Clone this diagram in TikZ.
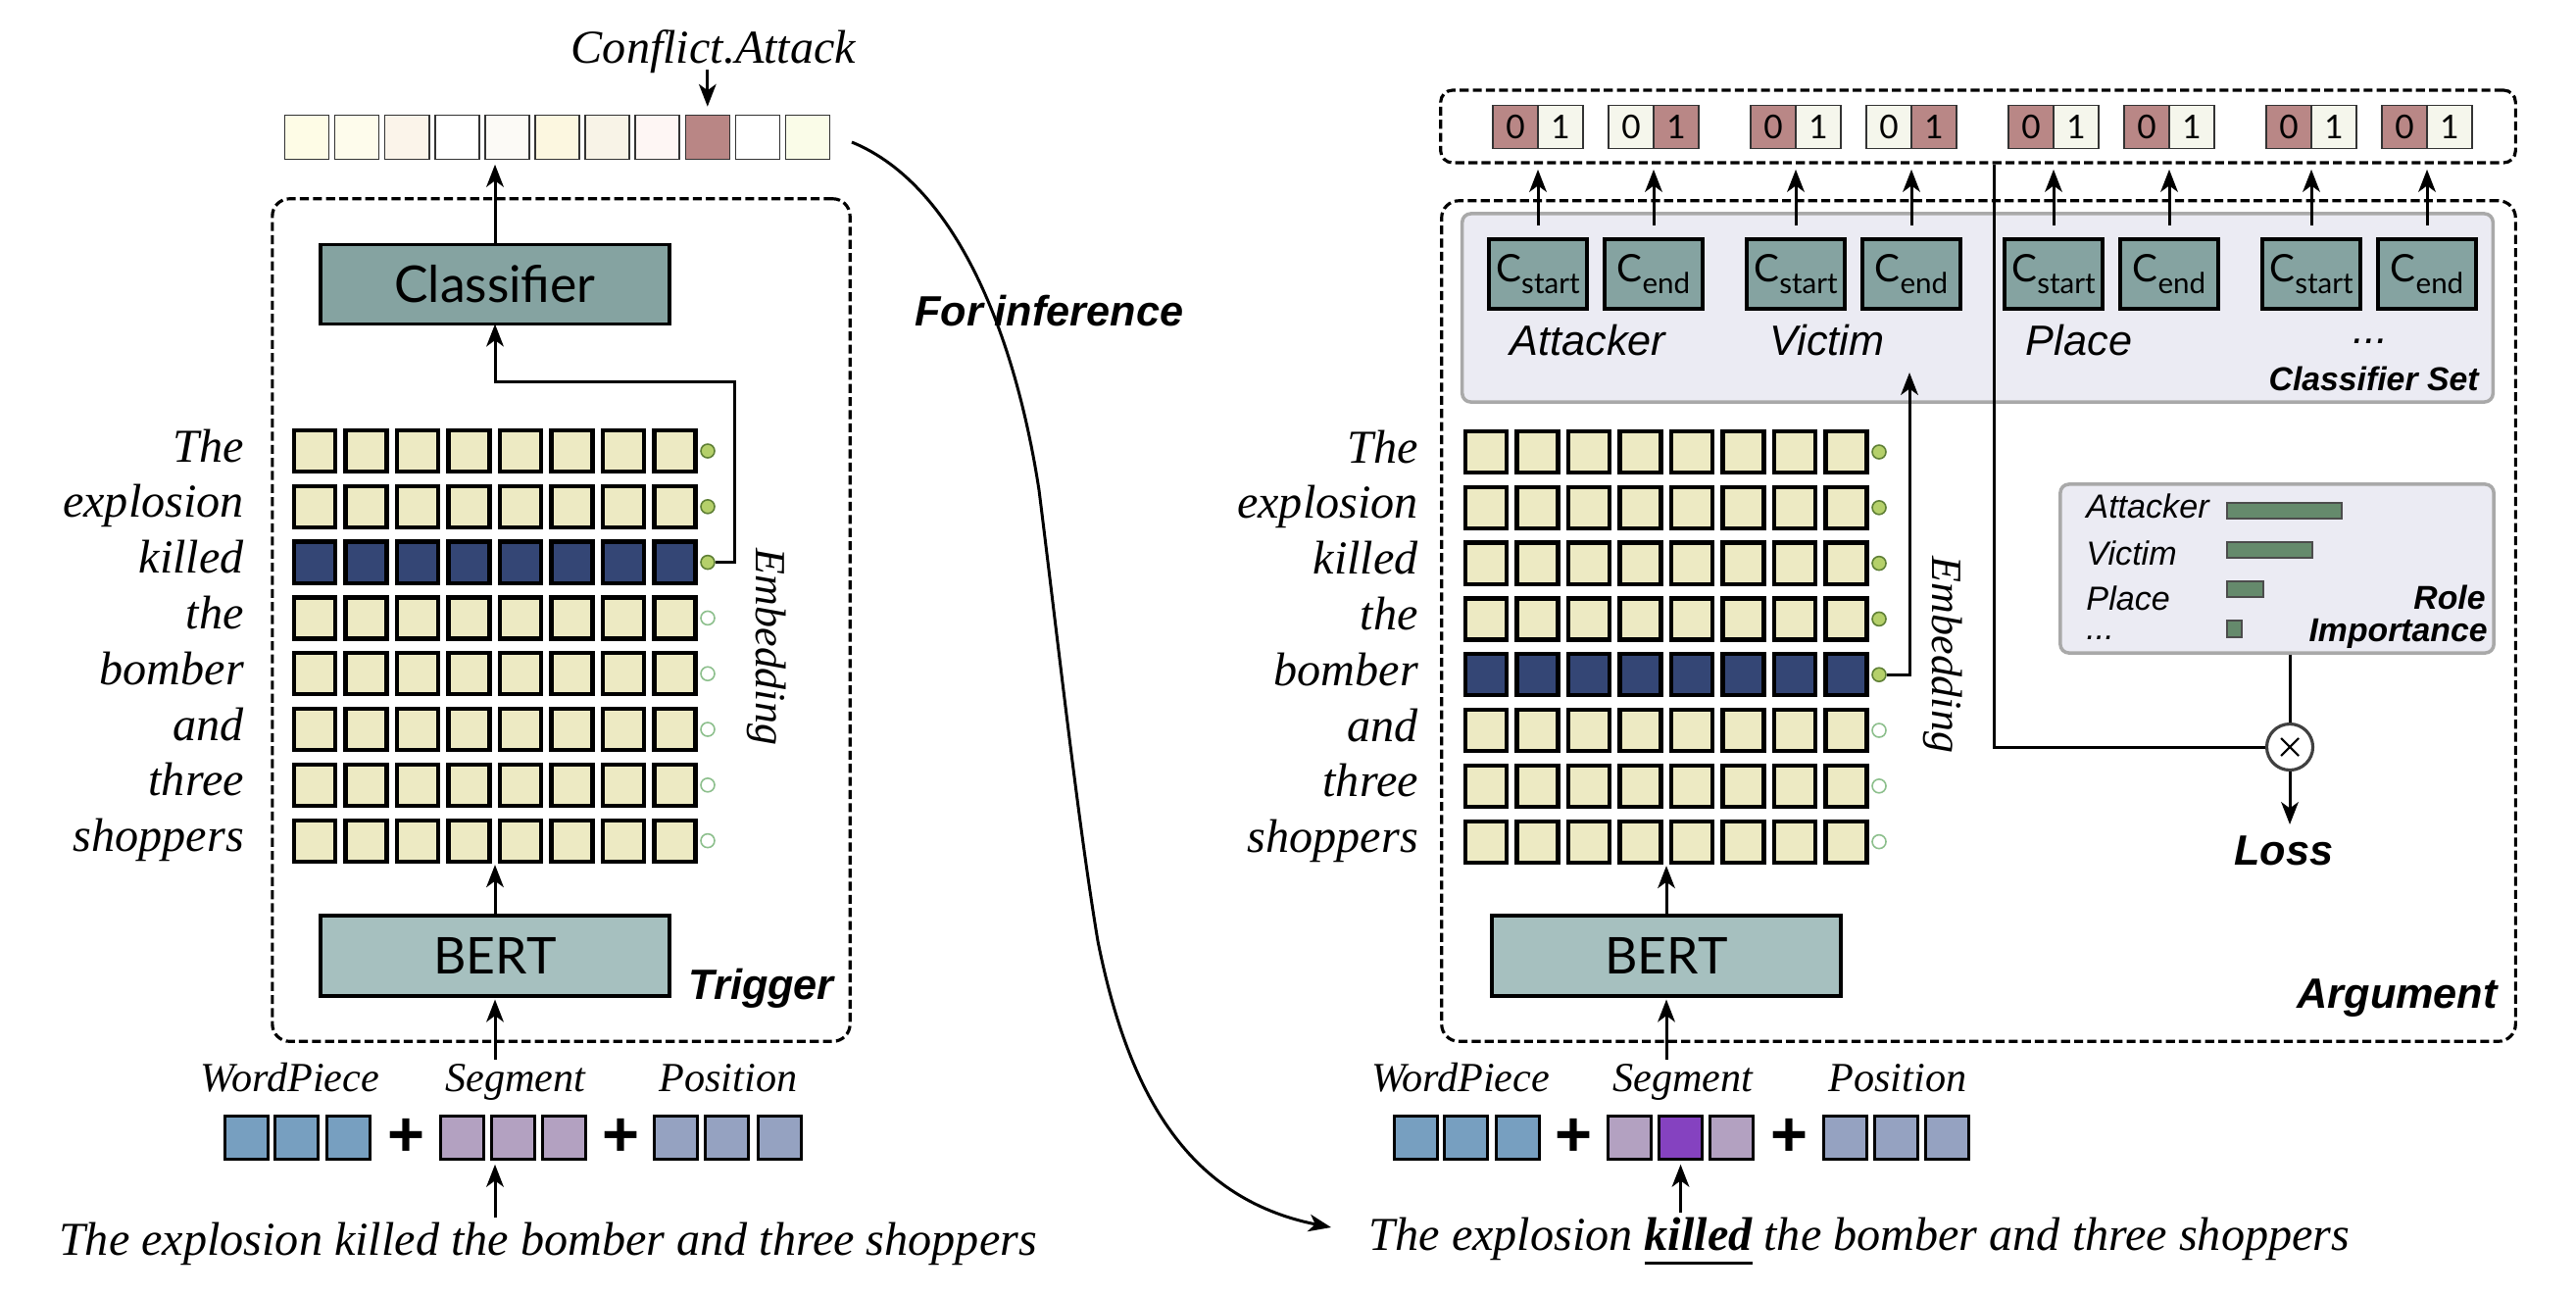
\documentclass[tikz,border=0pt]{standalone}
\usepackage{fontspec}
\setmainfont{Liberation Serif}
\setsansfont{Liberation Sans}
\newfontfamily\latofont{Lato}
\usetikzlibrary{arrows.meta,calc}

\definecolor{clsfill}{HTML}{85A3A1}
\definecolor{bertfill}{HTML}{A6C0BF}
\definecolor{tokfill}{HTML}{EDEAC3}
\definecolor{tokdark}{HTML}{344675}
\definecolor{dotgreen}{HTML}{B5D06A}
\definecolor{dotedge}{HTML}{5E7F35}
\definecolor{dothollow}{HTML}{8CBF8C}
\definecolor{panelfill}{HTML}{EBEBF3}
\definecolor{paneledge}{HTML}{A9A9A9}
\definecolor{barfill}{HTML}{658A6C}
\definecolor{rosy}{HTML}{B98786}
\definecolor{pale}{HTML}{F5F6EC}
\definecolor{wpfill}{HTML}{779FC0}
\definecolor{sgfill}{HTML}{B3A1C1}
\definecolor{sgdark}{HTML}{8542C0}
\definecolor{psfill}{HTML}{95A2C1}
\definecolor{otedge}{HTML}{404040}

\newcommand\csub[1]{\raisebox{-0.32em}{\fontsize{8.4}{9}\selectfont #1}}
\newcommand\thickul[1]{\setbox0\hbox{#1}\rlap{\rule[-4.2pt]{\wd0}{0.9pt}}\box0\relax}

\begin{document}
\begin{tikzpicture}[x=0.01cm,y=-0.01cm,
  arr/.style={line width=0.85pt,-{Stealth[length=6.5pt,width=5pt,inset=1.8pt]}},
  ln/.style={line width=0.85pt},
  dbox/.style={draw, line width=0.9pt, dash pattern=on 2.6pt off 1.2pt, rounded corners=5pt, inner sep=0},
  tok/.style={draw=black, line width=1.2pt, minimum width=0.42cm, minimum height=0.42cm, inner sep=0, outer sep=0},
  ecell/.style={draw=black, line width=0.9pt, minimum width=0.44cm, minimum height=0.44cm, inner sep=0, outer sep=0},
  tbcell/.style={draw=black!80, line width=0.45pt, minimum width=0.45cm, minimum height=0.45cm, inner sep=0, outer sep=0},
  pcell/.style={draw=black!80, line width=0.45pt, minimum width=0.455cm, minimum height=0.44cm, inner sep=0, outer sep=0, font=\latofont\fontsize{9.5}{10}\selectfont},
  bigbox/.style={draw=black, line width=1.1pt, inner sep=0, outer sep=0, font=\latofont\fontsize{14.7}{16}\selectfont},
  cbox/.style={draw=black, line width=1.1pt, fill=clsfill, minimum width=1.0cm, minimum height=0.71cm, inner sep=0, outer sep=0, font=\latofont\fontsize{11}{12}\selectfont},
  dotf/.style={circle, fill=dotgreen, draw=dotedge, line width=0.45pt, minimum size=0.14cm, inner sep=0},
  doth/.style={circle, fill=white, draw=dothollow, line width=0.45pt, minimum size=0.14cm, inner sep=0},
  word/.style={font=\fontsize{13.7}{15}\selectfont\itshape, inner sep=1pt},
  elbl/.style={font=\fontsize{12}{13}\selectfont\itshape, inner sep=1pt},
  blbl/.style={font=\sffamily\bfseries\itshape\fontsize{12.3}{13}\selectfont, inner sep=1pt},
  rlbl/.style={font=\sffamily\itshape\fontsize{12.3}{13}\selectfont, inner sep=1pt},
  slbl/.style={font=\sffamily\itshape\fontsize{9.7}{10}\selectfont, inner sep=0.5pt},
  sblbl/.style={font=\sffamily\bfseries\itshape\fontsize{9.6}{10}\selectfont, inner sep=0.5pt},
  plus/.style={font=\sffamily\bfseries\fontsize{18.5}{19}\selectfont, inner sep=0},
  panel/.style={draw=paneledge, fill=panelfill, line width=1pt, rounded corners=2.5pt, inner sep=0}
]
\useasboundingbox (0,0) rectangle (2628,1320);

% ================= LEFT (Trigger) =================
\node[dbox, minimum width=5.89cm, minimum height=8.59cm] (trigbox) at (572.5,632.5) {};

\foreach \i/\c in {1/FEFCE6,2/FEFCEC,3/FBF4EA,4/FFFFFF,5/FCFAF6,6/FCF7E0,7/F8F3E7,8/FEF6F4,9/B98685,10/FFFFFF,11/FAFCE8}{
  \definecolor{tbc}{HTML}{\c}
  \node[tbcell, fill=tbc] (tb\i) at ({313+51.1*(\i-1)},140) {};
}
\node[font=\fontsize{13.7}{15}\selectfont\itshape, inner sep=1pt, anchor=base] (ca) at (728,64) {Conflict.Attack};
\draw[arr, shorten >=2.5pt] ([yshift=-2pt]tb9.north |- ca.base) -- (tb9.north);

\node[bigbox, fill=clsfill, minimum width=3.56cm, minimum height=0.81cm] (cls) at (505,290) {Classifier};
\draw[arr, shorten >=1.5pt] (cls.north) -- (cls.north |- tb5.south);

\foreach \r/\col in {0/tokfill,1/tokfill,2/tokdark,3/tokfill,4/tokfill,5/tokfill,6/tokfill,7/tokfill}{
  \foreach \c in {0,...,7}{
    \node[tok, fill=\col] (L-\r-\c) at ({321+52.5*\c},{460+56.8*\r}) {};
  }
}
\foreach \r/\st in {0/dotf,1/dotf,2/dotf,3/doth,4/doth,5/doth,6/doth,7/doth}{
  \node[\st] (Ld\r) at (722,{460+56.8*\r}) {};
}
\foreach \w [count=\i from 0] in {The,explosion,killed,the,bomber,and,three,shoppers}{
  \node[word, anchor=base east] (lw\i) at (253,{471+56.8*\i}) {\w};
}
\coordinate (lbend) at (749,389);
\draw[arr] (Ld2.east) -| (lbend) -| (cls.south);
\node[font=\fontsize{12.5}{13}\selectfont\itshape, rotate=-90, inner sep=1pt] (lemb) at (782,660) {Embedding};

\node[bigbox, fill=bertfill, minimum width=3.56cm, minimum height=0.82cm] (bertL) at (505,975) {BERT};
\draw[arr, shorten >=1pt] (bertL.north) -- (bertL.north |- L-7-0.south);
\node[blbl, anchor=base east] (trig) at (855,1019) {Trigger};

\node[elbl, anchor=base] (wpL) at (296,1113) {WordPiece};
\node[elbl, anchor=base] (sgL) at (526,1113) {Segment};
\node[elbl, anchor=base] (psL) at (743,1113) {Position};
\foreach \k/\x in {0/251.5,1/302.5,2/355.5}{ \node[ecell, fill=wpfill] (wpL\k) at (\x,1160.5) {}; }
\foreach \k/\x in {0/471.5,1/523.5,2/575.5}{ \node[ecell, fill=sgfill] (sgL\k) at (\x,1160.5) {}; }
\foreach \k/\x in {0/689.5,1/741.5,2/795.5}{ \node[ecell, fill=psfill] (psL\k) at (\x,1160.5) {}; }
\node[plus] (plL1) at (414,1160) {+};
\node[plus] (plL2) at (633,1160) {+};
\draw[arr, shorten >=1pt] (bertL.south |- sgL.north) -- (bertL.south);

\node[word, anchor=base] (sentL) at (559,1280) {The explosion killed the bomber and three shoppers};
\draw[arr, shorten >=1.5pt] (bertL.south |- sentL.north) -- (bertL.south |- sgL1.south);

% ================= Curve =================
\node[blbl, anchor=base west] (finf) at (929,332) {For inference};
\coordinate (cv0) at (869,145);
\coordinate (cvend) at (1358,1252);
\draw[arr] (cv0) .. controls (979,190) and (1037,350) .. (1060,500)
  .. controls (1080,660) and (1100,840) .. (1120,960)
  .. controls (1150,1110) and (1208,1222) .. (cvend);

% ================= RIGHT (Argument) =================
\node[dbox, rounded corners=3.5pt, minimum width=10.96cm, minimum height=0.74cm] (rtop) at (2018,129) {};
\node[dbox, minimum width=10.95cm, minimum height=8.57cm] (argbox) at (2018.5,633.5) {};
\node[panel, minimum width=10.51cm, minimum height=1.92cm] (cset) at (2017.5,314) {};

\foreach \i/\a/\cl/\cr in {1/1523/rosy/pale,2/1641/pale/rosy,3/1786/rosy/pale,4/1904/pale/rosy,5/2049/rosy/pale,6/2167/rosy/pale,7/2312/rosy/pale,8/2430/rosy/pale}{
  \node[pcell, fill=\cl] (pl\i) at ({\a+23},129.5) {0};
  \node[pcell, fill=\cr] (pr\i) at ({\a+69},129.5) {1};
}
\foreach \i/\a/\s in {1/1523/start,2/1641/end,3/1786/start,4/1904/end,5/2049/start,6/2167/end,7/2312/start,8/2430/end}{
  \node[cbox] (cb\i) at ({\a+46},279.5) {C\csub{\s}};
  \draw[arr, shorten >=1.5pt] ([yshift=4pt]cb\i.north) -- (cb\i.north |- rtop.south);
}
\node[rlbl, anchor=base] (rAtt) at (1620,362) {Attacker};
\node[rlbl, anchor=base] (rVic) at (1864,362) {Victim};
\node[rlbl, anchor=base] (rPla) at (2121,362) {Place};
\node[rlbl, anchor=base] (rDot) at (2418,350) {...};
\node[sblbl, anchor=base east] (csetlbl) at (2531,398) {Classifier Set};

\foreach \r/\col in {0/tokfill,1/tokfill,2/tokfill,3/tokfill,4/tokdark,5/tokfill,6/tokfill,7/tokfill}{
  \foreach \c in {0,...,7}{
    \node[tok, fill=\col] (R-\r-\c) at ({1516+52.5*\c},{461+56.8*\r}) {};
  }
}
\foreach \r/\st in {0/dotf,1/dotf,2/dotf,3/dotf,4/dotf,5/doth,6/doth,7/doth}{
  \node[\st] (Rd\r) at (1917,{461+56.8*\r}) {};
}
\foreach \w [count=\i from 0] in {The,explosion,killed,the,bomber,and,three,shoppers}{
  \node[word, anchor=base east] (rw\i) at (1451,{472+56.8*\i}) {\w};
}
\coordinate (cstip) at (1948,380);
\draw[arr] (Rd4.east) -| (cstip);
\node[font=\fontsize{12.5}{13}\selectfont\itshape, rotate=-90, inner sep=1pt] (remb) at (1982,668) {Embedding};

\node[bigbox, fill=bertfill, minimum width=3.56cm, minimum height=0.82cm] (bertR) at (1700,975) {BERT};
\draw[arr, shorten >=1pt] (bertR.north) -- (bertR.north |- R-7-0.south);
\node[blbl, anchor=base east] (argl) at (2552,1028) {Argument};

\node[elbl, anchor=base] (wpR) at (1490,1113) {WordPiece};
\node[elbl, anchor=base] (sgR) at (1717,1113) {Segment};
\node[elbl, anchor=base] (psR) at (1936,1113) {Position};
\foreach \k/\x in {0/1444.5,1/1495.5,2/1548.5}{ \node[ecell, fill=wpfill] (wpR\k) at (\x,1160.5) {}; }
\node[ecell, fill=sgfill] (sgR0) at (1662.5,1160.5) {};
\node[ecell, fill=sgdark] (sgR1) at (1714.5,1160.5) {};
\node[ecell, fill=sgfill] (sgR2) at (1766.5,1160.5) {};
\foreach \k/\x in {0/1882.5,1/1934.5,2/1986.5}{ \node[ecell, fill=psfill] (psR\k) at (\x,1160.5) {}; }
\node[plus] (plR1) at (1605,1160) {+};
\node[plus] (plR2) at (1825,1160) {+};
\draw[arr, shorten >=1pt] (bertR.south |- sgR.north) -- (bertR.south);

\node[word, anchor=base] (sentR) at (1897,1275) {The explosion \thickul{\textbf{killed}} the bomber and three shoppers};
\draw[arr, shorten >=1.5pt] (sgR1.south |- sentR.north) -- (sgR1.south);

% role importance
\node[panel, minimum width=4.42cm, minimum height=1.72cm] (rip) at (2323,580) {};
\node[slbl, anchor=base west] (iAtt) at (2126,528) {Attacker};
\node[slbl, anchor=base west] (iVic) at (2126,576) {Victim};
\node[slbl, anchor=base west] (iPla) at (2126,622) {Place};
\node[slbl, anchor=base west] (iDot) at (2126,652) {...};
\draw[fill=barfill, draw=black!70, line width=0.5pt] (2272,513) rectangle (2389,529);
\draw[fill=barfill, draw=black!70, line width=0.5pt] (2272,553) rectangle (2359,569);
\draw[fill=barfill, draw=black!70, line width=0.5pt] (2272,593) rectangle (2309,609);
\draw[fill=barfill, draw=black!70, line width=0.5pt] (2272,633) rectangle (2287,650);
\node[sblbl, anchor=base east] (rrole) at (2538,621) {Role};
\node[sblbl, anchor=base east] (rimp) at (2540,654) {Importance};

\node[circle, draw=otedge, fill=white, line width=0.9pt, minimum size=0.47cm, inner sep=0] (ot) at (2336,762) {};
\draw[line width=0.6pt] ($(ot.center)+(-9,-9)$) -- ($(ot.center)+(9,9)$);
\draw[line width=0.6pt] ($(ot.center)+(-9,9)$) -- ($(ot.center)+(9,-9)$);
\coordinate (vx) at (2034,0);
\draw[ln] (rtop.south -| vx) |- (ot.west);
\draw[ln] (rip.south -| ot.north) -- (ot.north);
\node[blbl, anchor=base] (loss) at (2330,882) {Loss};
\draw[arr, shorten >=2pt] (ot.south) -- (ot.south |- loss.north);
\end{tikzpicture}
\end{document}
